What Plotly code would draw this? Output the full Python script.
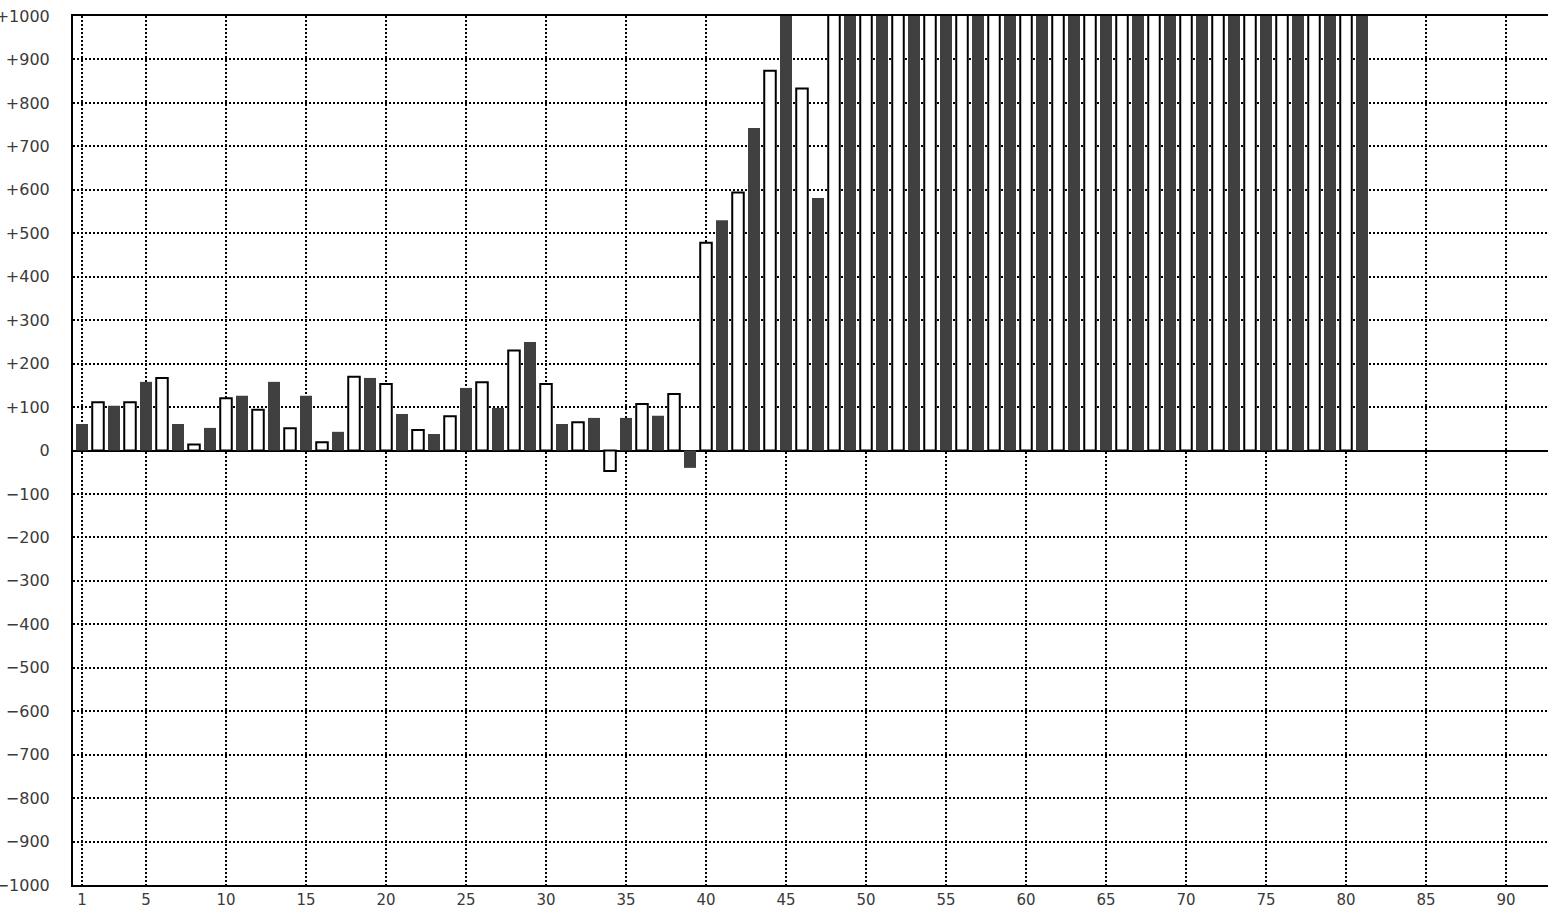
import plotly.graph_objects as go

# Bar positions (odd indices drawn dark, even indices drawn white)
odd_x = list(range(1, 82, 2))
even_x = list(range(2, 81, 2))

odd_values = [61, 103, 158, 61, 52, 126, 158, 126, 43, 167,
              84, 38, 144, 98, 250, 61, 75, 75, 80, -40,
              530, 742, 1100, 581, 1100, 1100, 1100, 1100, 1100, 1100,
              1100, 1100, 1100, 1100, 1100, 1100, 1100, 1100, 1100, 1100,
              1100]
even_values = [111, 111, 167, 14, 120, 94, 51, 19, 170, 153,
               47, 79, 157, 230, 153, 65, -47, 107, 130, 478,
               594, 874, 833, 1100, 1100, 1100, 1100, 1100, 1100, 1100,
               1100, 1100, 1100, 1100, 1100, 1100, 1100, 1100, 1100, 1100]

x_tickvals = [1, 5, 10, 15, 20, 25, 30, 35, 40, 45, 50, 55, 60, 65, 70, 75, 80, 85, 90]
y_tickvals = list(range(-1000, 1001, 100))
y_ticktext = [("+%d" % v if v > 0 else ("\u2212%d" % -v if v < 0 else "0")) for v in y_tickvals]

fig = go.Figure()
fig.add_trace(go.Bar(x=odd_x, y=odd_values, width=0.75,
                     marker=dict(color="#404040", line=dict(width=0))))
fig.add_trace(go.Bar(x=even_x, y=even_values, width=0.72,
                     marker=dict(color="#ffffff", line=dict(color="#000000", width=2))))

yfont = dict(family="DejaVu Sans", size=16, color="#3a3a3a")
xfont = dict(family="DejaVu Sans", size=15, color="#3a3a3a")

fig.update_layout(
    width=1548, height=908,
    margin=dict(l=73, r=0, t=16, b=23, autoexpand=False),
    paper_bgcolor="white", plot_bgcolor="white",
    showlegend=False, barmode="overlay",
    font=yfont,
)
fig.update_xaxes(
    range=[0.4375, 92.625], tickmode="array", tickvals=x_tickvals,
    showgrid=True, gridcolor="#000000", gridwidth=2, griddash="2px,2px",
    showline=True, linecolor="#000000", linewidth=2, mirror=True,
    ticks="", zeroline=False, tickfont=xfont, automargin=False,
)
fig.update_yaxes(
    range=[-1000, 1000], tickmode="array", tickvals=y_tickvals, ticktext=y_ticktext,
    showgrid=True, gridcolor="#000000", gridwidth=2, griddash="2px,2px",
    showline=True, linecolor="#000000", linewidth=2, mirror=False,
    zeroline=True, zerolinecolor="#000000", zerolinewidth=2,
    ticks="", tickfont=yfont, automargin=False, ticklabelstandoff=18,
)

fig.write_html(
    "out.html",
    config={"displayModeBar": False},
    post_script="document.body.style.margin='0';document.body.style.overflow='hidden';",
)
